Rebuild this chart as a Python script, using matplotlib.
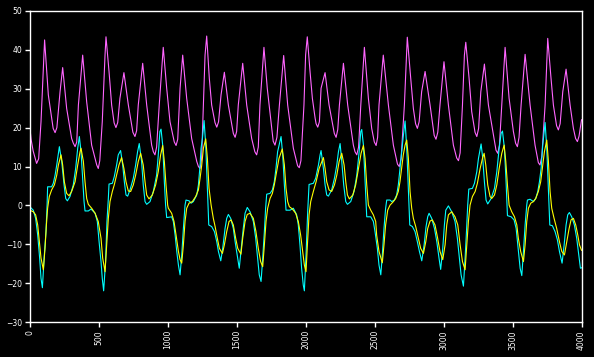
import matplotlib
matplotlib.use("Agg")
import matplotlib.pyplot as plt

# magenta series (time, value)
z_points = [(0, 20.5), (10, 17.0), (25, 14.0), (50, 10.8), (65, 12.0), (82, 21.5), (108, 42.5),
            (135, 28.4), (159, 22.4), (170, 19.8), (184, 18.7), (197, 20.0), (220, 29.2), (239, 35.4),
            (268, 24.9), (304, 17.2), (316, 16.0), (329, 15.1), (341, 16.3), (353, 25.8), (384, 38.6),
            (413, 26.6), (449, 15.5), (486, 10.4), (497, 9.5), (508, 11.5), (526, 21.5), (546, 38.6),
            (553, 43.3), (575, 34.4), (594, 25.8), (612, 21.2), (625, 20.0), (638, 21.3), (654, 27.5),
            (683, 34.1), (715, 25.8), (748, 18.8), (763, 17.7), (775, 19.2), (787, 25.8), (819, 36.5),
            (848, 25.8), (884, 15.5), (896, 13.8), (908, 13.0), (920, 15.0), (939, 25.8), (968, 40.6),
            (993, 30.1), (1017, 21.5), (1048, 16.3), (1061, 15.4), (1073, 17.0), (1090, 30.1),
            (1109, 38.6), (1138, 27.5), (1174, 17.2), (1211, 11.3), (1223, 10.0), (1235, 9.5),
            (1246, 12.0), (1259, 25.8), (1271, 38.6), (1283, 43.5), (1302, 32.6), (1319, 25.8),
            (1343, 21.3), (1356, 20.1), (1369, 21.5), (1387, 28.4), (1411, 34.2), (1440, 25.8),
            (1476, 18.5), (1489, 17.5), (1500, 19.0), (1512, 25.8), (1544, 36.5), (1573, 25.8),
            (1609, 17.2), (1632, 13.8), (1645, 13.0), (1657, 15.0), (1669, 25.8), (1698, 40.6),
            (1722, 30.1), (1749, 21.5), (1765, 16.5), (1778, 15.5), (1792, 17.5), (1810, 25.8),
            (1841, 38.5), (1870, 25.8), (1911, 14.7), (1942, 10.2), (1954, 9.7), (1966, 11.5),
            (1988, 25.8), (2000, 38.6), (2012, 43.3), (2032, 34.4), (2049, 27.5), (2069, 22.4),
            (2076, 21.0), (2088, 20.1), (2100, 21.5), (2112, 30.1), (2141, 34.1), (2170, 25.8),
            (2208, 18.5), (2221, 17.5), (2233, 19.5), (2245, 25.8), (2274, 36.5), (2305, 25.8),
            (2346, 15.5), (2358, 13.8), (2371, 13.0), (2384, 15.0), (2400, 25.8), (2426, 40.6),
            (2455, 27.5), (2479, 19.8), (2498, 16.3), (2511, 15.4), (2522, 17.5), (2532, 25.8),
            (2563, 38.6), (2600, 25.8), (2636, 15.5), (2666, 10.6), (2679, 10.0), (2692, 12.0),
            (2716, 25.8), (2737, 43.2), (2762, 32.6), (2781, 24.9), (2797, 21.0), (2810, 19.8),
            (2823, 21.5), (2841, 29.2), (2866, 34.4), (2902, 25.8), (2932, 18.0), (2945, 17.0),
            (2958, 18.8), (2974, 25.8), (3003, 36.9), (3035, 25.8), (3071, 15.5), (3095, 12.2),
            (3108, 11.5), (3120, 13.5), (3137, 25.8), (3151, 38.6), (3161, 41.9), (3185, 32.6),
            (3204, 24.1), (3228, 18.8), (3241, 17.7), (3254, 19.8), (3270, 29.2), (3296, 36.3),
            (3325, 25.8), (3380, 14.2), (3393, 13.4), (3405, 15.5), (3422, 25.8), (3446, 40.6),
            (3475, 27.5), (3506, 19.0), (3522, 16.0), (3535, 15.1), (3547, 17.5), (3562, 25.8),
            (3591, 38.8), (3627, 25.8), (3663, 15.5), (3687, 11.0), (3699, 10.4), (3712, 12.5),
            (3736, 25.8), (3755, 42.9), (3779, 32.6), (3796, 25.8), (3819, 20.5), (3832, 19.4),
            (3845, 21.0), (3864, 29.2), (3888, 35.0), (3917, 25.8), (3941, 19.8), (3957, 17.2),
            (3970, 16.4), (3982, 17.8), (4000, 22.0)]

# cyan series
c_points = [(0, -0.3), (26, -1.2), (43, -3.3), (58, -7.6), (72, -13.5), (82, -18.7), (92, -21.1),
            (106, -12.7), (118, -6.7), (126, 0.1), (130, 4.8), (159, 4.8), (171, 5.7), (184, 7.8),
            (196, 10.4), (215, 15.1), (232, 11.3), (249, 5.3), (261, 1.8), (273, 1.2), (292, 2.3),
            (316, 5.3), (333, 9.5), (348, 14.7), (360, 17.7), (372, 13.8), (384, 7.0), (394, 1.0),
            (401, -1.4), (425, -1.4), (445, -0.9), (474, -2.0), (490, -4.1), (503, -9.3),
            (517, -14.4), (526, -18.7), (536, -21.9), (550, -14.4), (560, -4.1), (570, 1.8),
            (575, 5.5), (599, 5.7), (613, 7.4), (630, 10.4), (642, 13.0), (659, 14.1), (674, 10.4),
            (686, 6.1), (698, 2.7), (710, 2.4), (727, 4.0), (751, 7.0), (768, 10.4), (782, 13.8),
            (794, 15.9), (811, 11.3), (823, 5.3), (836, 1.0), (848, 0.3), (872, 1.0), (896, 3.6),
            (920, 7.8), (932, 13.0), (944, 19.0), (952, 19.6), (964, 15.5), (976, 6.1), (985, 0.1),
            (993, -3.1), (1029, -2.9), (1041, -4.1), (1054, -7.6), (1066, -11.8), (1078, -15.3),
            (1090, -17.8), (1102, -12.7), (1114, -5.9), (1126, 0.1), (1133, 1.4), (1155, 1.2),
            (1170, 0.6), (1186, 1.0), (1211, 2.7), (1223, 5.3), (1235, 10.4), (1242, 14.7),
            (1252, 17.2), (1264, 21.8), (1276, 15.5), (1288, 4.4), (1298, -5.0), (1319, -5.4),
            (1339, -6.7), (1356, -9.3), (1368, -11.8), (1385, -14.2), (1399, -11.0), (1416, -5.9),
            (1428, -3.3), (1440, -2.3), (1457, -3.3), (1476, -5.9), (1489, -9.3), (1508, -13.5),
            (1519, -16.1), (1531, -11.8), (1548, -5.9), (1561, -2.0), (1577, -0.5), (1597, -1.6),
            (1621, -4.1), (1638, -8.4), (1652, -13.5), (1664, -17.8), (1677, -19.5), (1689, -13.5),
            (1701, -6.7), (1710, -0.7), (1718, 2.9), (1742, 3.1), (1759, 4.0), (1773, 6.1),
            (1785, 9.5), (1797, 13.8), (1822, 17.7), (1834, 13.0), (1846, 5.3), (1858, -1.2),
            (1887, -1.2), (1911, -0.7), (1935, -2.4), (1947, -5.0), (1959, -10.1), (1971, -16.1),
            (1983, -20.4), (1991, -21.9), (2003, -12.7), (2015, -1.6), (2025, 5.4), (2056, 5.7),
            (2073, 7.0), (2093, 10.4), (2105, 13.0), (2112, 14.1), (2129, 9.5), (2141, 5.3),
            (2153, 2.7), (2165, 2.4), (2189, 4.0), (2209, 7.0), (2226, 10.4), (2238, 13.8),
            (2250, 15.9), (2262, 11.3), (2276, 5.3), (2291, 1.0), (2303, 0.3), (2327, 1.0),
            (2351, 3.6), (2371, 7.8), (2388, 13.8), (2400, 19.0), (2407, 19.5), (2419, 15.5),
            (2431, 6.1), (2443, -2.9), (2472, -2.9), (2491, -4.1), (2503, -6.7), (2520, -11.0),
            (2532, -15.3), (2545, -17.8), (2556, -12.7), (2568, -5.9), (2580, -0.7), (2588, 1.4),
            (2612, 1.4), (2624, 1.0), (2643, 1.4), (2660, 2.7), (2672, 5.3), (2684, 9.5),
            (2696, 13.8), (2709, 18.1), (2721, 21.7), (2733, 14.7), (2745, 3.6), (2755, -5.0),
            (2774, -5.4), (2793, -6.7), (2810, -9.3), (2825, -11.8), (2842, -14.2), (2859, -10.1),
            (2873, -5.4), (2885, -2.9), (2895, -2.0), (2914, -3.3), (2934, -5.9), (2951, -9.3),
            (2967, -13.5), (2979, -16.4), (2994, -11.0), (3006, -5.0), (3016, -1.2), (3035, -0.1),
            (3059, -1.6), (3083, -4.1), (3100, -8.4), (3115, -13.5), (3127, -17.8), (3144, -20.7),
            (3156, -13.5), (3166, -6.7), (3175, 0.1), (3183, 4.2), (3209, 4.4), (3224, 5.7),
            (3241, 8.7), (3253, 12.1), (3272, 15.8), (3284, 12.1), (3296, 6.1), (3308, 1.4),
            (3320, 0.4), (3345, 1.8), (3369, 4.4), (3386, 8.7), (3403, 14.7), (3417, 18.5),
            (3427, 19.1), (3441, 14.7), (3453, 6.1), (3463, -2.6), (3490, -2.9), (3511, -3.7),
            (3526, -5.9), (3538, -10.1), (3555, -16.1), (3567, -18.0), (3579, -11.8), (3591, -5.0),
            (3603, 0.1), (3608, 1.4), (3627, 1.6), (3651, 1.0), (3668, 1.8), (3683, 3.6),
            (3695, 6.1), (3707, 9.5), (3719, 15.5), (3729, 19.0), (3736, 21.3), (3748, 14.7),
            (3760, 3.6), (3770, -5.0), (3789, -5.2), (3808, -6.7), (3825, -8.8), (3840, -11.8),
            (3859, -14.8), (3874, -10.1), (3888, -5.0), (3900, -2.4), (3912, -1.8), (3929, -2.9),
            (3948, -5.0), (3965, -8.4), (3977, -11.8), (3992, -16.1), (4000, -16.0)]

# yellow series
y_points = [(0, -1.2), (26, -1.6), (43, -2.4), (58, -5.0), (70, -9.3), (82, -13.5), (99, -16.5),
            (111, -11.0), (121, -5.0), (130, -0.7), (142, 2.3), (159, 4.0), (179, 5.3), (196, 7.8),
            (208, 10.4), (227, 13.0), (239, 10.4), (251, 6.1), (268, 3.1), (285, 2.5), (304, 3.6),
            (329, 6.1), (348, 10.4), (365, 13.8), (372, 14.7), (389, 11.3), (401, 6.1), (413, 1.8),
            (425, 0.3), (449, -0.7), (474, -2.0), (493, -3.7), (497, -4.1), (517, -8.4),
            (529, -13.5), (546, -17.0), (558, -10.1), (570, -3.3), (582, 1.0), (599, 3.6),
            (613, 5.3), (630, 7.8), (647, 10.4), (666, 12.3), (683, 9.5), (698, 6.1), (715, 3.7),
            (732, 3.6), (751, 5.3), (768, 7.8), (787, 11.3), (804, 13.4), (823, 10.4), (836, 6.1),
            (848, 2.7), (865, 1.7), (889, 2.7), (913, 5.3), (932, 8.7), (949, 13.0), (964, 15.4),
            (976, 11.3), (988, 5.3), (1000, 0.1), (1005, -0.7), (1029, -2.0), (1046, -4.1),
            (1061, -7.6), (1078, -11.8), (1090, -13.9), (1102, -14.8), (1114, -10.1), (1126, -4.1),
            (1138, -0.7), (1155, 0.6), (1179, 1.0), (1203, 2.3), (1223, 4.0), (1235, 7.0),
            (1247, 10.4), (1259, 14.7), (1276, 17.1), (1288, 12.1), (1300, 4.4), (1315, 0.1),
            (1331, -3.3), (1344, -5.4), (1360, -8.4), (1375, -11.0), (1397, -12.3), (1411, -10.1),
            (1428, -6.7), (1445, -4.1), (1460, -3.7), (1476, -5.0), (1493, -8.4), (1508, -11.0),
            (1531, -12.5), (1544, -8.4), (1561, -4.1), (1577, -2.3), (1597, -2.0), (1621, -3.3),
            (1640, -6.7), (1657, -11.0), (1674, -14.4), (1689, -15.7), (1701, -10.1), (1713, -4.1),
            (1725, -0.7), (1742, 1.8), (1759, 3.1), (1773, 5.3), (1790, 8.7), (1807, 12.1),
            (1831, 14.5), (1846, 10.4), (1858, 4.4), (1870, 1.0), (1882, -0.3), (1904, -0.9),
            (1928, -2.0), (1947, -4.1), (1964, -7.6), (1979, -11.8), (1991, -15.3), (2003, -17.0),
            (2013, -10.1), (2025, -2.4), (2037, 1.0), (2056, 3.6), (2076, 6.1), (2098, 9.5),
            (2129, 12.3), (2141, 9.5), (2153, 6.1), (2170, 4.0), (2189, 3.6), (2209, 5.3),
            (2226, 7.8), (2243, 11.3), (2262, 13.4), (2279, 10.4), (2291, 6.1), (2303, 2.7),
            (2317, 1.7), (2342, 2.7), (2363, 5.3), (2383, 9.5), (2402, 13.4), (2419, 15.4),
            (2431, 12.1), (2443, 5.3), (2455, 0.1), (2472, -1.2), (2491, -2.4), (2508, -4.1),
            (2515, -7.6), (2532, -11.8), (2556, -14.7), (2568, -10.1), (2580, -5.0), (2595, -1.2),
            (2612, 0.1), (2636, 1.0), (2653, 1.8), (2672, 3.6), (2684, 6.1), (2696, 9.5),
            (2708, 13.0), (2721, 15.5), (2733, 16.8), (2745, 12.1), (2757, 3.6), (2769, -0.7),
            (2781, -3.3), (2798, -5.4), (2817, -8.4), (2834, -11.0), (2854, -12.3), (2871, -9.3),
            (2885, -5.9), (2902, -4.0), (2919, -3.7), (2938, -5.0), (2957, -8.4), (2974, -11.8),
            (2994, -13.9), (3011, -10.1), (3023, -5.0), (3035, -2.4), (3059, -1.6), (3083, -2.9),
            (3103, -5.0), (3120, -10.1), (3137, -14.4), (3156, -16.5), (3168, -10.1), (3180, -4.1),
            (3192, 0.1), (3209, 2.3), (3229, 3.6), (3245, 5.7), (3265, 9.5), (3282, 12.1),
            (3294, 13.4), (3306, 10.4), (3320, 5.3), (3337, 2.3), (3349, 1.8), (3369, 2.7),
            (3386, 5.3), (3403, 9.5), (3422, 13.4), (3439, 15.5), (3451, 11.3), (3463, 5.3),
            (3475, 0.1), (3494, -1.6), (3514, -2.9), (3531, -5.0), (3542, -8.4), (3559, -11.8),
            (3579, -14.4), (3591, -10.1), (3603, -4.1), (3615, -0.7), (3632, 0.6), (3651, 1.0),
            (3668, 1.8), (3687, 3.6), (3704, 6.1), (3719, 10.4), (3731, 13.8), (3748, 16.8),
            (3760, 11.3), (3772, 3.6), (3784, -0.7), (3801, -3.3), (3820, -5.9), (3840, -9.3),
            (3857, -11.8), (3876, -12.7), (3893, -9.3), (3910, -5.9), (3924, -3.7), (3941, -3.3),
            (3958, -5.0), (3973, -7.6), (3985, -10.1), (4000, -11.5)]

x_ticks = list(range(0, 4001, 500))
y_ticks = list(range(-30, 51, 10))

fig = plt.figure(figsize=(5.94, 3.57), dpi=100, facecolor="black")
ax = fig.add_axes([0.05, 0.097, 0.929, 0.873], facecolor="black")

for pts, col in [(z_points, "#ff66ff"), (c_points, "#00ffff"), (y_points, "#ffff00")]:
    t, v = zip(*sorted(pts))
    ax.plot(t, v, color=col, lw=0.8)

ax.set_xlim(0, 4000)
ax.set_ylim(-30, 50)
ax.set_xticks(x_ticks)
ax.set_yticks(y_ticks)
ax.set_xticklabels([str(v) for v in x_ticks], rotation=90)
for s in ax.spines.values():
    s.set_color("white")
    s.set_linewidth(1)
ax.tick_params(colors="white", labelsize=5.5, length=3.5, width=1, pad=2)

fig.savefig("out.png", dpi=100, facecolor="black")
